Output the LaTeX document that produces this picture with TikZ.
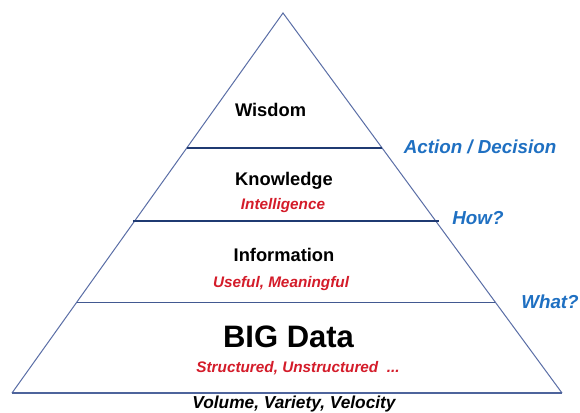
\documentclass[tikz,border=0pt]{standalone}
\usepackage{fontspec}
\setmainfont{Liberation Sans}
\usepackage{tikz}
\usetikzlibrary{calc}

\definecolor{sidecol}{HTML}{5A6EA6}
\definecolor{bandcol}{HTML}{1F3A72}
\definecolor{notered}{HTML}{D41C2A}
\definecolor{noteblue}{HTML}{1F70C2}

\begin{document}
\begin{tikzpicture}[x=1pt, y=-1pt,
  level/.style={font=\fontsize{18.3}{20}\selectfont\bfseries, anchor=base},
  sub/.style={font=\fontsize{15.3}{17}\selectfont\bfseries\itshape, text=notered, anchor=base},
  ask/.style={font=\fontsize{18.8}{20}\selectfont\bfseries\itshape, text=noteblue, anchor=base},
  band/.style={draw=bandcol, line width=1.3pt}
  ]
  \useasboundingbox[fill=white] (0,0) rectangle (580,412);
  % outline of the pyramid
  \coordinate (apex) at (283,13);
  \coordinate (bl) at (12,393);
  \coordinate (br) at (562,393);
  \draw[sidecol, line width=1pt] (bl) -- (apex) -- (br);
  \draw[draw=sidecol!80!bandcol, line width=1.3pt] (bl) -- (br);
  % dividing lines between the levels
  \coordinate (l1) at ($(apex)!0.355!(bl)$);
  \coordinate (r1) at ($(apex)!0.355!(br)$);
  \coordinate (l2) at ($(apex)!0.547!(bl)+(-2,0)$);
  \coordinate (r2) at ($(apex)!0.547!(br)+(3,0)$);
  \coordinate (l3) at ($(apex)!0.761!(bl)$);
  \coordinate (r3) at ($(apex)!0.761!(br)$);
  \draw[band] (l1) -- (r1);
  \draw[band, line width=2pt] (l2) -- (r2);
  \draw[band, draw=sidecol!60!bandcol] (l3) -- (r3);
  % levels
  \node[level] (wisdom) at (270.5,116) {Wisdom};
  \node[level] (knowledge) at (284,185) {Knowledge};
  \node[sub] (intel) at (283,209) {Intelligence};
  \node[level] (info) at (284,261) {Information};
  \node[sub] (useful) at (281,287) {Useful, Meaningful};
  \node[level, font=\fontsize{31}{33}\selectfont\bfseries] (bigdata) at (288.5,347) {BIG Data};
  \node[sub] (struct) at (298,372) {Structured, Unstructured~~...};
  \node[level, font=\fontsize{17.3}{19}\selectfont\bfseries\itshape] (vvv) at (294,408) {Volume, Variety, Velocity};
  % questions on the right
  \node[ask] (action) at (480,153) {Action / Decision};
  \node[ask] (how) at (478,224) {How?};
  \node[ask] (what) at (550,308) {What?};
\end{tikzpicture}
\end{document}
